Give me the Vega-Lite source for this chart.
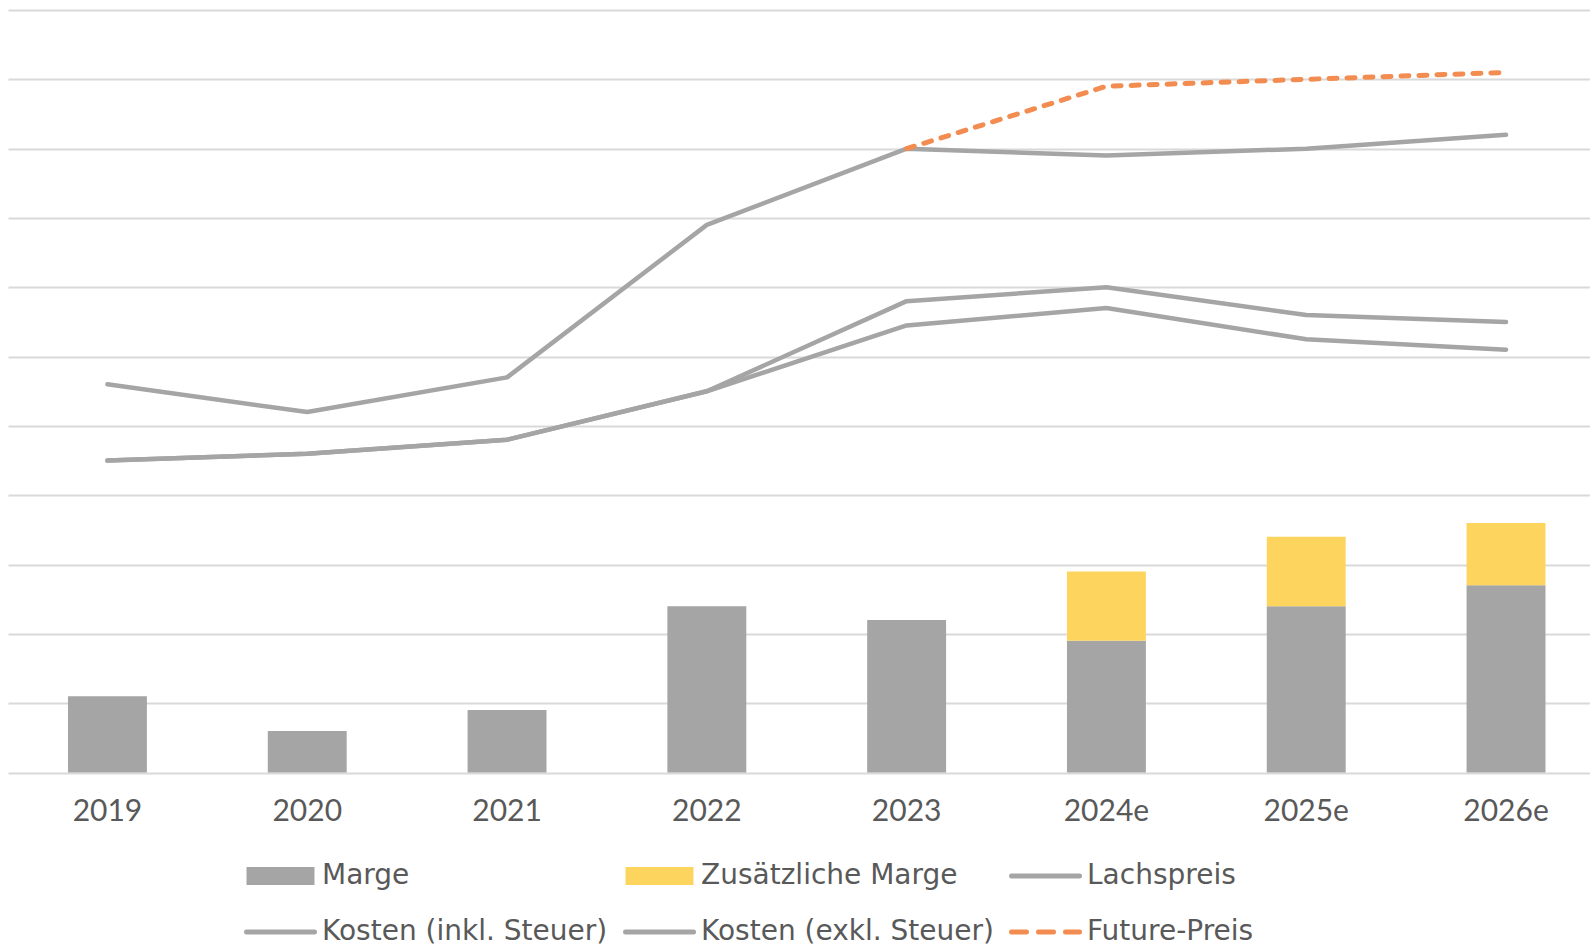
{
  "$schema": "https://vega.github.io/schema/vega-lite/v6.json",
  "autosize": {"type": "none"},
  "width": 1582,
  "height": 762.5,
  "padding": {"left": 8, "top": 10, "right": 0, "bottom": 174.5},
  "background": "white",
  "config": {
    "view": {"stroke": null},
    "font": "Lato"
  },
  "data": {
    "values": [
      {"year": "2019", "series": "Marge", "value": 1.1},
      {"year": "2020", "series": "Marge", "value": 0.6},
      {"year": "2021", "series": "Marge", "value": 0.9},
      {"year": "2022", "series": "Marge", "value": 2.4},
      {"year": "2023", "series": "Marge", "value": 2.2},
      {"year": "2024e", "series": "Marge", "value": 1.9},
      {"year": "2025e", "series": "Marge", "value": 2.4},
      {"year": "2026e", "series": "Marge", "value": 2.7},
      {"year": "2024e", "series": "Zusätzliche Marge", "value": 1.0},
      {"year": "2025e", "series": "Zusätzliche Marge", "value": 1.0},
      {"year": "2026e", "series": "Zusätzliche Marge", "value": 0.9},
      {"year": "2019", "series": "Lachspreis", "value": 5.6},
      {"year": "2020", "series": "Lachspreis", "value": 5.2},
      {"year": "2021", "series": "Lachspreis", "value": 5.7},
      {"year": "2022", "series": "Lachspreis", "value": 7.9},
      {"year": "2023", "series": "Lachspreis", "value": 9.0},
      {"year": "2024e", "series": "Lachspreis", "value": 8.9},
      {"year": "2025e", "series": "Lachspreis", "value": 9.0},
      {"year": "2026e", "series": "Lachspreis", "value": 9.2},
      {"year": "2019", "series": "Kosten (inkl. Steuer)", "value": 4.5},
      {"year": "2020", "series": "Kosten (inkl. Steuer)", "value": 4.6},
      {"year": "2021", "series": "Kosten (inkl. Steuer)", "value": 4.8},
      {"year": "2022", "series": "Kosten (inkl. Steuer)", "value": 5.5},
      {"year": "2023", "series": "Kosten (inkl. Steuer)", "value": 6.8},
      {"year": "2024e", "series": "Kosten (inkl. Steuer)", "value": 7.0},
      {"year": "2025e", "series": "Kosten (inkl. Steuer)", "value": 6.6},
      {"year": "2026e", "series": "Kosten (inkl. Steuer)", "value": 6.5},
      {"year": "2019", "series": "Kosten (exkl. Steuer)", "value": 4.5},
      {"year": "2020", "series": "Kosten (exkl. Steuer)", "value": 4.6},
      {"year": "2021", "series": "Kosten (exkl. Steuer)", "value": 4.8},
      {"year": "2022", "series": "Kosten (exkl. Steuer)", "value": 5.5},
      {"year": "2023", "series": "Kosten (exkl. Steuer)", "value": 6.45},
      {"year": "2024e", "series": "Kosten (exkl. Steuer)", "value": 6.7},
      {"year": "2025e", "series": "Kosten (exkl. Steuer)", "value": 6.25},
      {"year": "2026e", "series": "Kosten (exkl. Steuer)", "value": 6.1},
      {"year": "2023", "series": "Future-Preis", "value": 9.0},
      {"year": "2024e", "series": "Future-Preis", "value": 9.9},
      {"year": "2025e", "series": "Future-Preis", "value": 10.0},
      {"year": "2026e", "series": "Future-Preis", "value": 10.1}
    ]
  },
  "encoding": {
    "x": {
      "field": "year",
      "type": "nominal",
      "sort": ["2019", "2020", "2021", "2022", "2023", "2024e", "2025e", "2026e"],
      "scale": {"type": "band", "paddingInner": 0.605, "paddingOuter": 0.2615, "align": 0.574},
      "axis": {
        "title": null,
        "domain": false,
        "ticks": false,
        "grid": false,
        "labelAngle": 0,
        "labelFont": "Lato",
        "labelFontSize": 30,
        "labelColor": "#595959",
        "labelPadding": 24
      }
    },
    "y": {
      "field": "value",
      "type": "quantitative",
      "scale": {"domain": [0, 11], "nice": false, "zero": true},
      "axis": {
        "title": null,
        "values": [0, 1, 2, 3, 4, 5, 6, 7, 8, 9, 10, 11],
        "labels": false,
        "ticks": false,
        "domain": false,
        "grid": true,
        "gridColor": "#D9D9D9",
        "gridWidth": 2
      }
    },
    "color": {
      "field": "series",
      "type": "nominal",
      "scale": {
        "domain": ["Marge", "Zusätzliche Marge", "Lachspreis", "Kosten (inkl. Steuer)", "Kosten (exkl. Steuer)", "Future-Preis"],
        "range": ["#A5A5A5", "#FDD55E", "#A5A5A5", "#A5A5A5", "#A5A5A5", "#F28C50"]
      },
      "legend": {
        "title": null,
        "orient": "none",
        "direction": "horizontal",
        "legendX": 236,
        "legendY": 844,
        "columns": 3,
        "columnPadding": 15,
        "rowPadding": 12,
        "clipHeight": 44,
        "padding": 0,
        "labelFont": "DejaVu Sans",
        "labelFontSize": 28,
        "labelColor": "#595959",
        "labelLimit": 0,
        "labelOffset": 5,
        "symbolSize": 4624,
        "symbolStrokeWidth": 5,
        "symbolOpacity": 1,
        "encoding": {
          "symbols": {
            "shape": {"value": {"expr": "datum.value === 'Marge' || datum.value === 'Zusätzliche Marge' ? 'M-0.926,-0.191H0.926V0.191H-0.926Z' : 'stroke'"}},
            "fill": {"value": {"expr": "scale('color', datum.value)"}},
            "stroke": {"value": {"expr": "scale('color', datum.value)"}},
            "strokeDash": {"value": {"expr": "datum.value === 'Future-Preis' ? [15, 12] : []"}},
            "strokeCap": {"value": {"expr": "datum.value === 'Marge' || datum.value === 'Zusätzliche Marge' ? 'butt' : 'round'"}}
          }
        }
      }
    }
  },
  "layer": [
    {
      "transform": [{"filter": "datum.series === 'Marge' || datum.series === 'Zusätzliche Marge'"}],
      "mark": {"type": "bar"},
      "encoding": {
        "order": {"field": "series", "type": "nominal", "sort": "ascending"}
      }
    },
    {
      "transform": [{"filter": "datum.series === 'Lachspreis' || datum.series === 'Kosten (inkl. Steuer)' || datum.series === 'Kosten (exkl. Steuer)'"}],
      "mark": {"type": "line", "strokeWidth": 4.5, "strokeCap": "round", "strokeJoin": "round"}
    },
    {
      "transform": [{"filter": "datum.series === 'Future-Preis'"}],
      "mark": {"type": "line", "strokeWidth": 5, "strokeCap": "round", "strokeJoin": "round", "strokeDash": [8, 10]}
    }
  ]
}
